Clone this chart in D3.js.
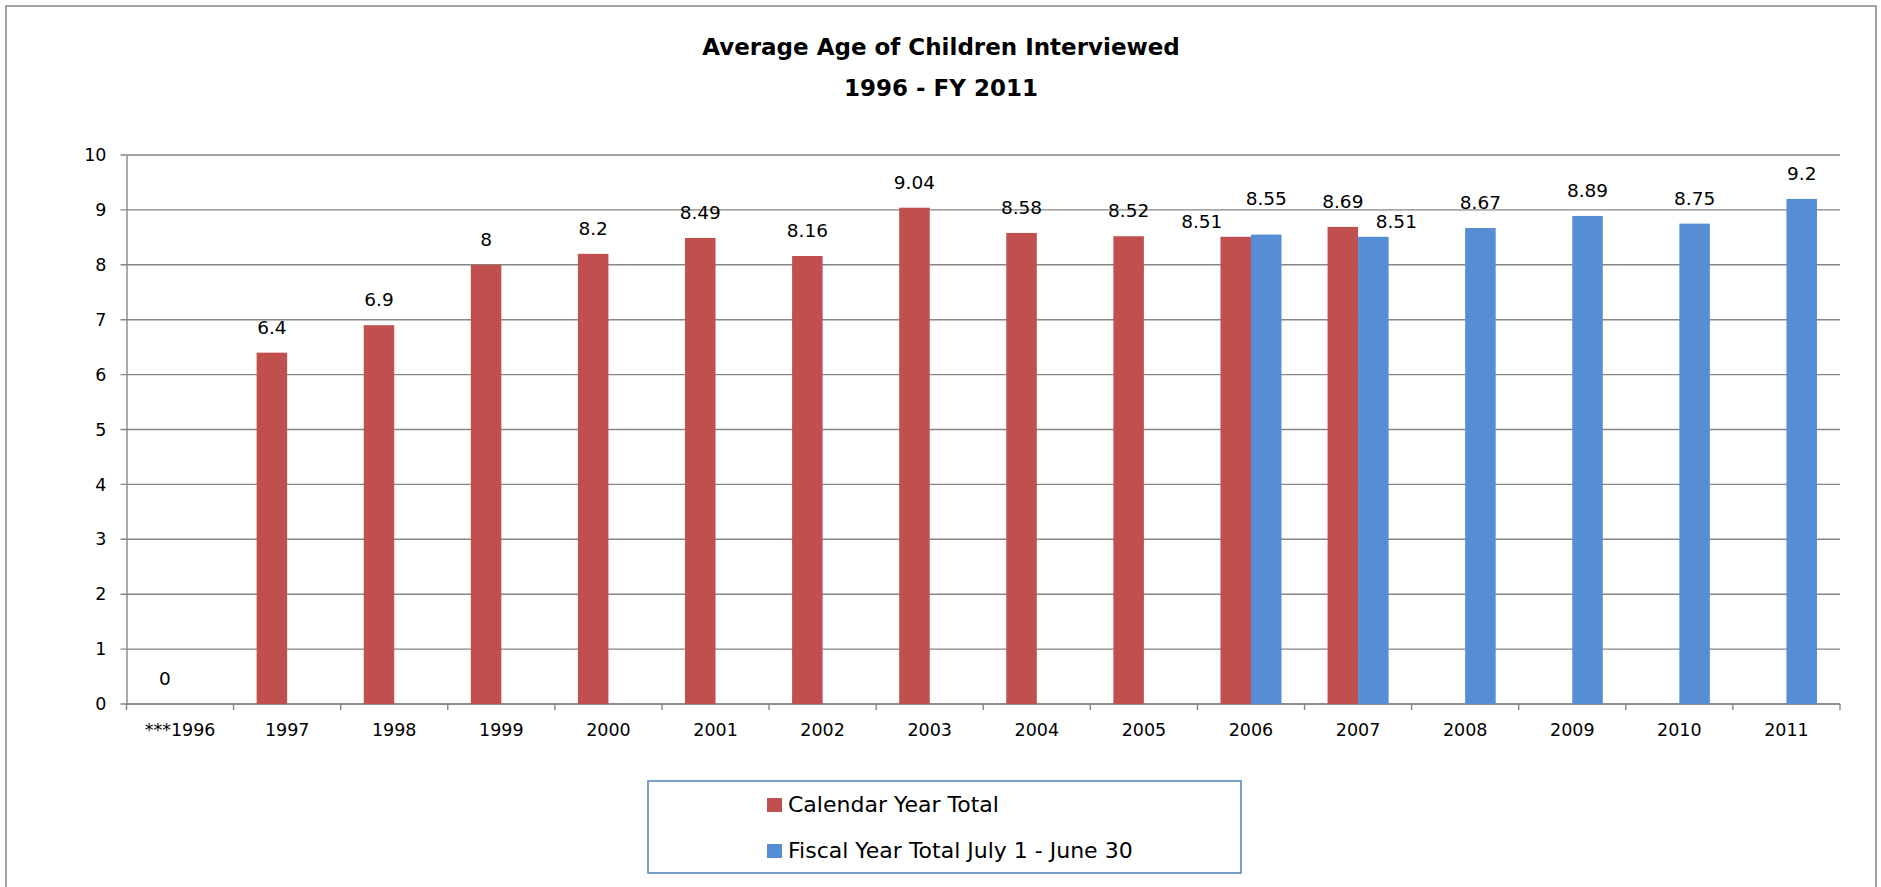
<!DOCTYPE html>
<html>
<head>
<meta charset="utf-8">
<script src="https://cdn.jsdelivr.net/npm/d3@7"></script>
<style>
  html, body { margin: 0; padding: 0; background: #fff; }
  svg { display: block; font-family: "DejaVu Sans", sans-serif; }
</style>
</head>
<body>
<svg id="chart" width="1881" height="887"></svg>
<script>
// chart data
const years = ['***1996', '1997', '1998', '1999', '2000', '2001', '2002', '2003',
  '2004', '2005', '2006', '2007', '2008', '2009', '2010', '2011'];
const calendarTotal = [0, 6.4, 6.9, 8, 8.2, 8.49, 8.16, 9.04, 8.58, 8.52, 8.51, 8.69,
  null, null, null, null];
const fiscalTotal = [null, null, null, null, null, null, null, null, null, null,
  8.55, 8.51, 8.67, 8.89, 8.75, 9.2];
const seriesNames = ['Calendar Year Total', 'Fiscal Year Total July 1 - June 30'];
const yTicks = [0, 1, 2, 3, 4, 5, 6, 7, 8, 9, 10];
const titleLines = ['Average Age of Children Interviewed', '1996 - FY 2011'];

const colors = ['#C0504D', '#558ED5'];
const gridColor = '#868686';

// labels that were dragged around by hand in the original
const labelNudge = {
  '0|2006': [-34, 10],
  '1|2006': [0, -11],
  '1|2007': [23, 10]
};

const svg = d3.select('#chart');
const margin = { left: 126.5, right: 1840, top: 155, bottom: 704 };

// outer frame
svg.append('rect')
  .attr('x', 6).attr('y', 6)
  .attr('width', 1870).attr('height', 900)
  .attr('fill', '#fff')
  .attr('stroke', gridColor)
  .attr('stroke-width', 1.5);

// title
svg.append('g').selectAll('text')
  .data(titleLines)
  .join('text')
  .attr('x', 941)
  .attr('y', (d, i) => 55 + i * 41)
  .attr('text-anchor', 'middle')
  .attr('font-size', 23)
  .attr('font-weight', 'bold')
  .attr('fill', '#000')
  .text(d => d);

const x = d3.scaleBand()
  .domain(years)
  .range([margin.left, margin.right])
  .padding(0);

const x1 = d3.scaleBand()
  .domain([0, 1])
  .range([0, x.bandwidth()])
  .paddingInner(0)
  .paddingOuter(0.755);

const y = d3.scaleLinear()
  .domain([0, 10])
  .range([margin.bottom, margin.top]);

// gridlines
svg.append('g').selectAll('line')
  .data(yTicks)
  .join('line')
  .attr('x1', margin.left - 6)
  .attr('x2', margin.right)
  .attr('y1', d => y(d))
  .attr('y2', d => y(d))
  .attr('stroke', gridColor)
  .attr('stroke-width', 1.4);

// y axis
const yAxis = svg.append('g')
  .attr('transform', `translate(${margin.left},0)`)
  .call(d3.axisLeft(y).tickValues(yTicks).tickSize(0).tickPadding(20));
yAxis.select('.domain').attr('stroke', gridColor).attr('stroke-width', 1.4);
yAxis.selectAll('text').attr('font-size', 17.5).attr('font-family', 'DejaVu Sans').attr('fill', '#000');

// x axis, tick marks sit on the band edges
const xAxis = svg.append('g')
  .attr('transform', `translate(0,${margin.bottom})`)
  .call(d3.axisBottom(x).tickSize(0).tickPadding(20));
xAxis.select('.domain').remove();
xAxis.selectAll('text').attr('font-size', 17.5).attr('font-family', 'DejaVu Sans').attr('fill', '#000');

const edges = years.map(d => x(d)).concat([margin.right]);
svg.append('g').selectAll('line')
  .data(edges)
  .join('line')
  .attr('x1', d => d).attr('x2', d => d)
  .attr('y1', margin.bottom).attr('y2', margin.bottom + 6)
  .attr('stroke', gridColor)
  .attr('stroke-width', 1.4);
svg.append('line')
  .attr('x1', margin.left).attr('x2', margin.right)
  .attr('y1', margin.bottom).attr('y2', margin.bottom)
  .attr('stroke', gridColor)
  .attr('stroke-width', 1.4);

// bars
const series = [calendarTotal, fiscalTotal];
const points = [];
series.forEach((vals, s) => {
  vals.forEach((v, i) => {
    if (v !== null) points.push({ s, year: years[i], key: years[i].replace('***', ''), v });
  });
});

svg.append('g').selectAll('rect')
  .data(points)
  .join('rect')
  .attr('x', d => x(d.year) + x1(d.s))
  .attr('y', d => y(d.v))
  .attr('width', x1.bandwidth())
  .attr('height', d => y(0) - y(d.v))
  .attr('fill', d => colors[d.s]);

// data labels
svg.append('g').selectAll('text')
  .data(points)
  .join('text')
  .attr('x', d => {
    const n = labelNudge[d.s + '|' + d.key];
    return x(d.year) + x1(d.s) + x1.bandwidth() / 2 + (n ? n[0] : 0);
  })
  .attr('y', d => {
    const n = labelNudge[d.s + '|' + d.key];
    return y(d.v) - 19 + (n ? n[1] : 0);
  })
  .attr('text-anchor', 'middle')
  .attr('font-size', 18.5)
  .attr('fill', '#000')
  .text(d => d.v);

// legend
const legend = svg.append('g');
legend.append('rect')
  .attr('x', 648).attr('y', 781)
  .attr('width', 593).attr('height', 92)
  .attr('fill', '#fff')
  .attr('stroke', '#4F81BD')
  .attr('stroke-width', 1.5);

const item = legend.selectAll('g.item')
  .data(seriesNames)
  .join('g')
  .attr('class', 'item')
  .attr('transform', (d, i) => `translate(767,${798 + i * 46})`);
item.append('rect')
  .attr('width', 15).attr('height', 14)
  .attr('fill', (d, i) => colors[i]);
item.append('text')
  .attr('x', 21).attr('y', 14)
  .attr('font-size', 22)
  .attr('fill', '#000')
  .text(d => d);
</script>
</body>
</html>
